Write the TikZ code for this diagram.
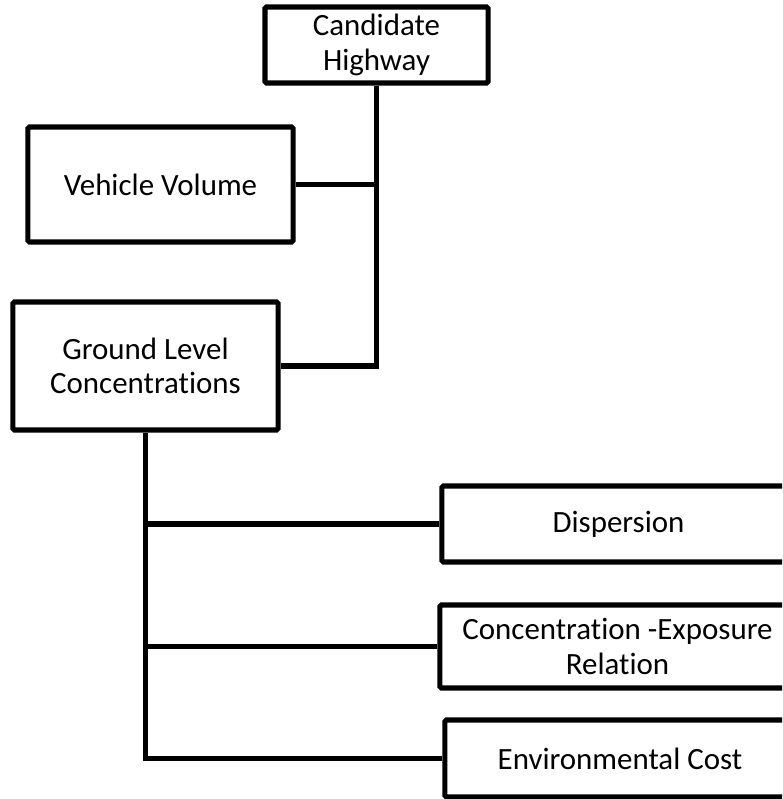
\documentclass[tikz,border=0pt]{standalone}
\usepackage{fontspec}
\setmainfont{Carlito}[Ligatures={NoCommon}]
\begin{document}
\begin{tikzpicture}[
                x=0.025cm, y=-0.025cm,
                box/.style={draw, line width=3.6pt, rounded corners=1pt, align=center,
                    font=\fontsize{22}{24.5}\selectfont, inner sep=0pt},
                link/.style={line width=3.6pt}
            ]
            \useasboundingbox (0,0) rectangle (782,799);
            \clip (0,0) rectangle (782,799);
            % boxes
            \node[box, minimum width=5.575cm, minimum height=1.9cm] (highway) at (376.5,45) {Candidate\\Highway};
            \node[box, minimum width=6.625cm, minimum height=2.875cm] (volume) at (160.5,184.5) {Vehicle Volume};
            \node[box, minimum width=6.625cm, minimum height=3.2cm] (ground) at (145.5,366) {Ground Level\\Concentrations};
            \node[box, minimum width=8.825cm, minimum height=1.9cm] (dispersion) at (618.5,524) {Dispersion};
            \node[box, minimum width=8.875cm, minimum height=2.075cm] (exposure) at (617.5,646.5) {Concentration -Exposure\\Relation};
            \node[box, minimum width=8.75cm, minimum height=1.925cm] (cost) at (620,758.5) {Environmental Cost};
            % connectors
            \draw[link] (highway.south) |- (ground.east);
            \draw[link] (volume.east) -- (volume.east -| highway.south);
            \draw[link] (ground.south) |- (cost.west);
            \draw[link] (dispersion.west) -- (dispersion.west -| ground.south);
            \draw[link] (exposure.west) -- (exposure.west -| ground.south);
        \end{tikzpicture}
\end{document}
